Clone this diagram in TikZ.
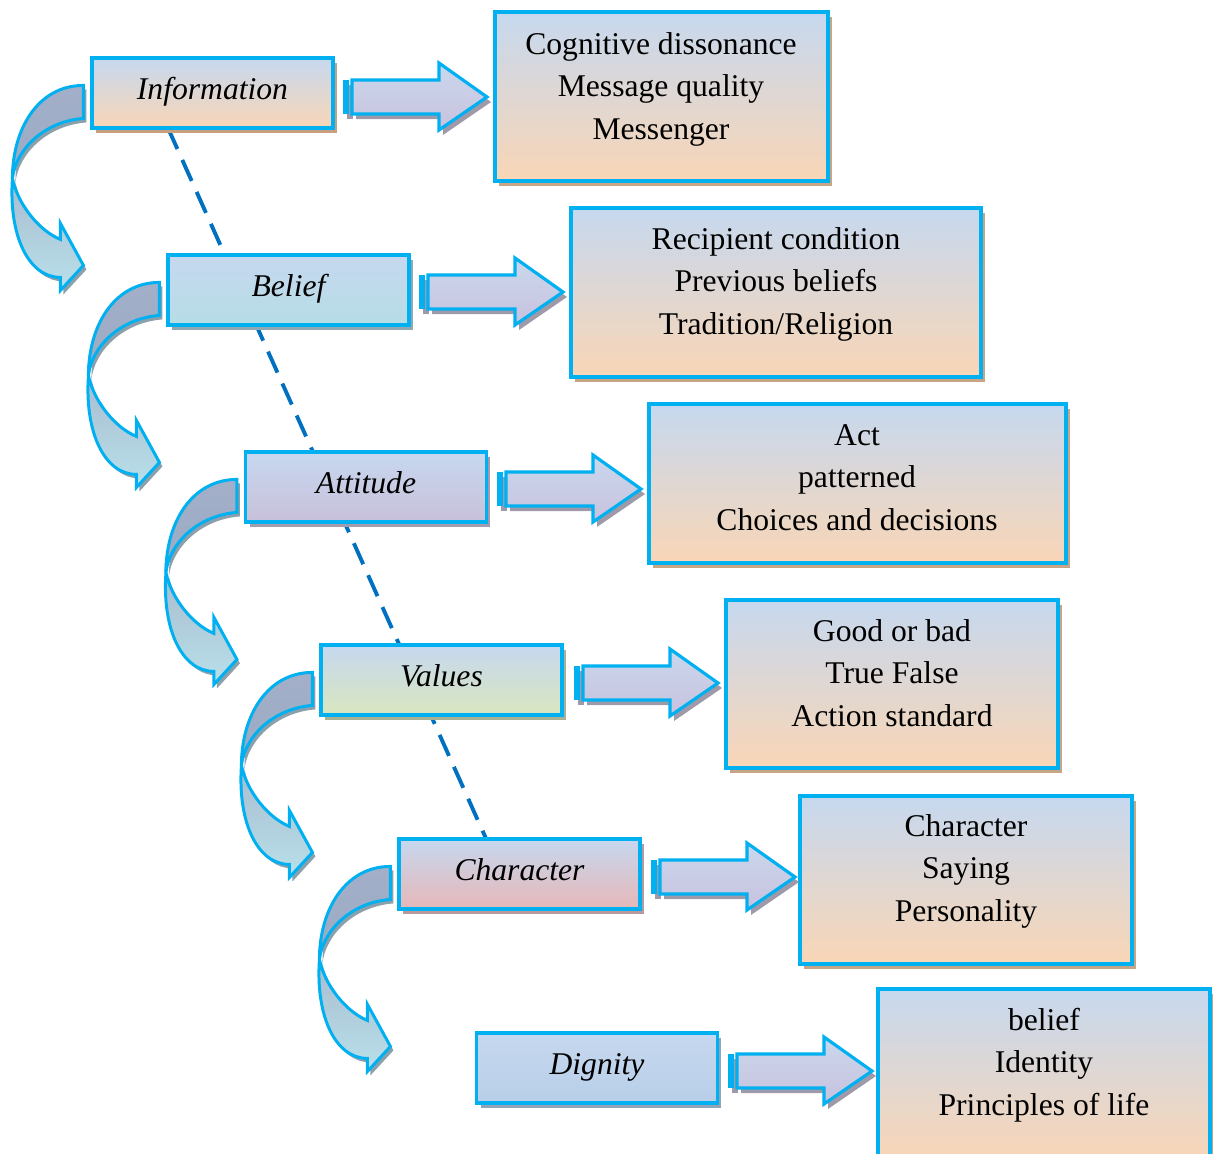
\documentclass[tikz,border=0pt]{standalone}
\usepackage{fontspec}
\setmainfont{Liberation Serif}
\usetikzlibrary{shadows,calc}
\definecolor{bord}{HTML}{00B0F0}
\definecolor{dashcol}{HTML}{0070C0}
\definecolor{topblue}{HTML}{C6D8EF}
\definecolor{peach}{HTML}{F9D6B6}
\definecolor{tealb}{HTML}{B6DDE6}
\definecolor{lav}{HTML}{C9C0DA}
\definecolor{lgreen}{HTML}{D9E6BF}
\definecolor{pinkb}{HTML}{E6B7B8}
\definecolor{blueb}{HTML}{B8CEE8}
\definecolor{shinfo}{HTML}{C8A080}
\definecolor{shbel}{HTML}{8FA8B2}
\definecolor{shatt}{HTML}{A39BAE}
\definecolor{shval}{HTML}{A9B195}
\definecolor{shchar}{HTML}{B99A9C}
\definecolor{shdig}{HTML}{90A3B8}
\definecolor{shright}{HTML}{C8A584}
\definecolor{sharrow}{HTML}{9E9AAA}
\definecolor{shcurve}{HTML}{8CA0AC}
\definecolor{arrtop}{HTML}{C9D8EE}
\definecolor{arrbot}{HTML}{C9C1DD}
\definecolor{cupc}{HTML}{9BAAC3}
\definecolor{cuptop}{HTML}{A3AFC8}
\definecolor{lowtop}{HTML}{A9BCCF}
\definecolor{lowbot}{HTML}{B8E0EA}
\tikzset{
  shd/.style={drop shadow={shadow xshift=0.08cm,shadow yshift=-0.1cm,fill=#1,opacity=1}},
  lbox/.style={draw=bord, line width=1.8pt, minimum width=4.82cm, minimum height=1.4cm,
    inner sep=0pt, font=\fontsize{18}{24}\selectfont\itshape,
    text height=12.6pt, text depth=4.7pt, top color=topblue},
  rbox/.style={draw=bord, line width=1.8pt, inner sep=0pt, top color=topblue,
    bottom color=peach, shd=shright},
  rtext/.style={font=\fontsize{18}{24.1}\selectfont, inner sep=0pt},
  barrow/.style={draw=bord, line width=1.8pt, top color=arrtop, bottom color=arrbot, shd=sharrow},
  cup/.style={draw=bord, line width=1.7pt, top color=cuptop, bottom color=cupc,
    drop shadow={shadow xshift=0.06cm,shadow yshift=-0.08cm,fill=shcurve,opacity=1}},
  clow/.style={draw=bord, line width=1.7pt, top color=lowtop, bottom color=lowbot,
    drop shadow={shadow xshift=0.06cm,shadow yshift=-0.08cm,fill=shcurve,opacity=1}},
  dashline/.style={draw=dashcol, line width=2.2pt, dash pattern=on 0.46cm off 0.24cm}
}
\begin{document}
\begin{tikzpicture}[x=0.02cm,y=-0.02cm]
\useasboundingbox (0,0) rectangle (1213,1153);

\path (212.5,93) coordinate (infoC) (519.5,874) coordinate (charC);
\draw[dashline] ($(infoC)+(-44.5,35)$) coordinate (ds) -- ($(charC)+(-1.5,36)$) coordinate (de);

\node[lbox, bottom color=peach, shd=shinfo] (info) at (infoC) {Information};
\node[lbox, bottom color=tealb, shd=shbel] (bel) at (288.5,290) {Belief};
\node[lbox, bottom color=lav, shd=shatt] (att) at (366,487) {Attitude};
\node[lbox, bottom color=lgreen, shd=shval] (val) at (441.5,680) {Values};
\node[lbox, bottom color=pinkb, shd=shchar] (char) at (charC) {Character};
\node[lbox, bottom color=blueb, shd=shdig] (dig) at (597,1068) {Dignity};

\node[rbox, minimum width=6.66cm, minimum height=3.38cm] (r1) at (661.5,96.5) {};
\node[rbox, minimum width=8.2cm, minimum height=3.38cm] (r2) at (776,292.5) {};
\node[rbox, minimum width=8.34cm, minimum height=3.18cm] (r3) at (857.5,483.5) {};
\node[rbox, minimum width=6.64cm, minimum height=3.36cm] (r4) at (892,684) {};
\node[rbox, minimum width=6.64cm, minimum height=3.36cm] (r5) at (966,880) {};
\node[rbox, minimum width=6.64cm, minimum height=3.44cm] (r6) at (1044,1075) {};

\node[rtext] (t1) at (661,88.5) {\begin{tabular}{@{}c@{}}Cognitive dissonance\\Message quality\\Messenger\end{tabular}};
\node[rtext] (t2) at (776,283.5) {\begin{tabular}{@{}c@{}}Recipient condition\\Previous beliefs\\Tradition/Religion\end{tabular}};
\node[rtext] (t3) at (857,479.5) {\begin{tabular}{@{}c@{}}Act\\patterned\\Choices and decisions\end{tabular}};
\node[rtext] (t4) at (892,675.5) {\begin{tabular}{@{}c@{}}Good or bad\\True False\\Action standard\end{tabular}};
\node[rtext] (t5) at (966,870.5) {\begin{tabular}{@{}c@{}}Character\\Saying\\Personality\end{tabular}};
\node[rtext] (t6) at (1044,1064.5) {\begin{tabular}{@{}c@{}}belief\\Identity\\Principles of life\end{tabular}};

\foreach \a/\c in {343/97, 419/292, 497/489, 574/683, 651/877, 728/1071}{
  \begin{scope}[shift={(\a,\c)}]
    \fill[bord, shd=sharrow] (0,-17) rectangle (6,17);
    \path[barrow] (9,-17) -- (96,-17) -- (96,-34) -- (144,0) -- (96,33) -- (96,17) -- (9,17) -- cycle;
  \end{scope}
}

\foreach \n in {info,bel,att,val,char}{
  \begin{scope}[shift={($(\n.north west)+(-7,29)$)}]
    \path[clow] (-71,93) .. controls (-66,118) and (-45,145) .. (-23,154) -- (-23,138) -- (0,180)
       -- (-23,205) -- (-23,192) .. controls (-55,192) and (-75,150) .. (-71,93) -- cycle;
    \path[cup] (0,0) .. controls (-45,0) and (-71,43) .. (-71,93)
       .. controls (-68,65) and (-40,36) .. (0,33) -- cycle;
  \end{scope}
}
\end{tikzpicture}
\end{document}
